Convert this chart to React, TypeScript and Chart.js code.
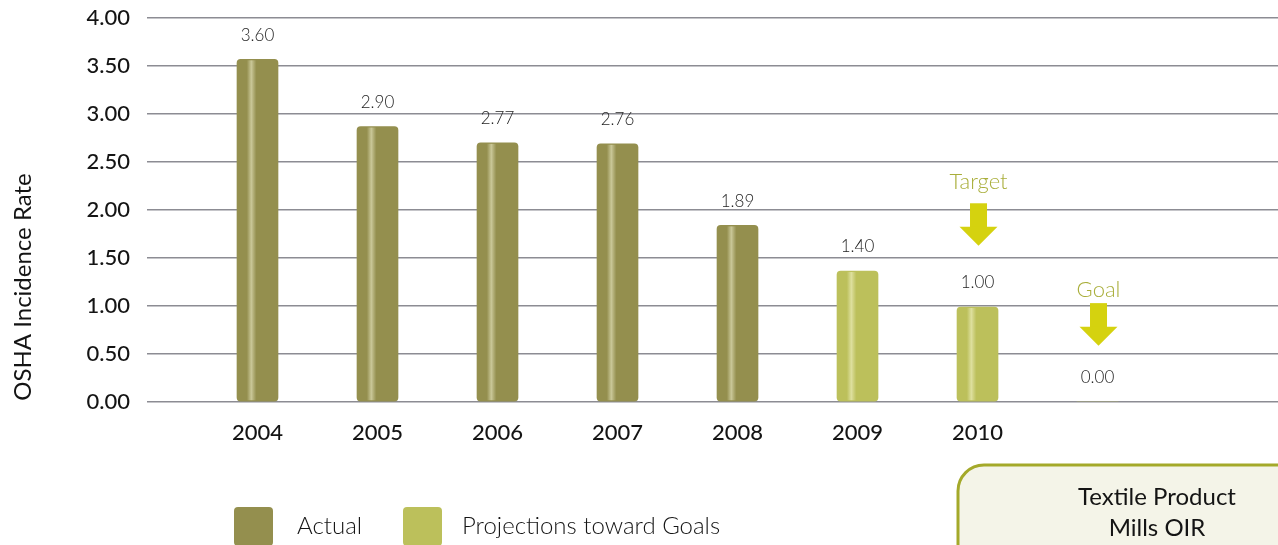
import React, { useEffect, useRef } from "react";
import { Chart, registerables } from "chart.js";

Chart.register(...registerables);

// ---------- data ----------
const categories = ["2004", "2005", "2006", "2007", "2008", "2009", "2010", ""];
const actualValues = [3.57, 2.87, 2.7, 2.69, 1.84];
const projectionValues = [1.365, 0.99, 0];
const projectionStart = 5;
const valueLabels = ["3.60", "2.90", "2.77", "2.76", "1.89", "1.40", "1.00", "0.00"];
const yTickValues = [0, 0.5, 1, 1.5, 2, 2.5, 3, 3.5, 4];
const legendLabels = ["Actual", "Projections toward Goals"];
const yTitle = "OSHA Incidence Rate";
const boxLines = ["Textile Product", "Mills OIR"];
const notes = [
  { index: 6, text: "Target", labelY: 2.29, arrowTop: 2.07, arrowTip: 1.628 },
  { index: 7, text: "Goal", labelY: 1.17, arrowTop: 1.03, arrowTip: 0.587 },
];

// ---------- styles ----------
const FONT = 'Lato, "Noto Sans", sans-serif';
const ACTUAL = "#948F4E";
const PROJ = "#BCC05B";
const NOTE_TEXT = "#A9AE3A";
const ARROW = "#D5D20F";
const TEXT = "#141414";

const decorPlugin = {
  id: "decor",
  afterDatasetsDraw(chart: any) {
    const ctx = chart.ctx;
    chart.data.datasets.forEach((_: any, di: number) => {
      const meta = chart.getDatasetMeta(di);
      meta.data.forEach((el: any) => {
        const { x, y, base, width } = el.getProps(["x", "y", "base", "width"], true);
        if (Math.abs(base - y) < 1) return;
        const left = x - width / 2;
        const g = ctx.createLinearGradient(left, 0, left + width, 0);
        g.addColorStop(0, "rgba(255,255,225,0)");
        g.addColorStop(0.24, "rgba(255,255,225,0)");
        g.addColorStop(0.35, "rgba(255,255,225,0.5)");
        g.addColorStop(0.47, "rgba(255,255,225,0)");
        g.addColorStop(1, "rgba(255,255,225,0)");
        ctx.save();
        ctx.fillStyle = g;
        ctx.fillRect(left, y + 1, width, base - y - 2);
        ctx.restore();
      });
    });
  },
  afterDraw(chart: any) {
    const ctx = chart.ctx;
    const xs = chart.scales.x;
    const ys = chart.scales.y;
    ctx.save();
    // value labels
    ctx.font = `300 17px ${FONT}`;
    ctx.fillStyle = "#1e1e1e";
    ctx.textAlign = "center";
    ctx.textBaseline = "middle";
    const allVals = [...actualValues, ...projectionValues];
    allVals.forEach((v, i) => {
      ctx.fillText(valueLabels[i], xs.getPixelForValue(i), ys.getPixelForValue(v) - 24);
    });
    // notes with arrows
    notes.forEach((n) => {
      const cx = xs.getPixelForValue(n.index) + 1;
      ctx.font = `300 22px ${FONT}`;
      ctx.fillStyle = NOTE_TEXT;
      ctx.fillText(n.text, cx, ys.getPixelForValue(n.labelY));
      const top = ys.getPixelForValue(n.arrowTop);
      const tip = ys.getPixelForValue(n.arrowTip);
      const headH = 19;
      ctx.fillStyle = ARROW;
      ctx.fillRect(cx - 8.5, top, 17, tip - headH - top + 1);
      ctx.beginPath();
      ctx.moveTo(cx - 19, tip - headH);
      ctx.lineTo(cx + 19, tip - headH);
      ctx.lineTo(cx, tip);
      ctx.closePath();
      ctx.fill();
    });
    // y title
    ctx.save();
    ctx.translate(23, 287);
    ctx.rotate(-Math.PI / 2);
    ctx.font = `400 24px ${FONT}`;
    ctx.fillStyle = TEXT;
    ctx.fillText(yTitle, 0, 0);
    ctx.restore();
    // legend
    const items = [
      { x: 234, color: ACTUAL, textX: 297 },
      { x: 403, color: PROJ, textX: 462 },
    ];
    items.forEach((it, i) => {
      ctx.fillStyle = it.color;
      ctx.beginPath();
      (ctx as any).roundRect(it.x, 507, 39, 39, 4);
      ctx.fill();
      ctx.fillStyle = TEXT;
      ctx.font = `300 24px ${FONT}`;
      ctx.textAlign = "left";
      ctx.fillText(legendLabels[i], it.textX, 526);
    });
    // box
    ctx.beginPath();
    (ctx as any).roundRect(958, 465, 420, 200, 26);
    ctx.fillStyle = "#F4F4E8";
    ctx.fill();
    ctx.lineWidth = 3;
    ctx.strokeStyle = "#A4A92A";
    ctx.stroke();
    ctx.fillStyle = TEXT;
    ctx.font = `400 24px ${FONT}`;
    ctx.textAlign = "center";
    ctx.fillText(boxLines[0], 1157, 497);
    ctx.fillText(boxLines[1], 1157, 528);
    ctx.restore();
  },
};

export default function App() {
  const ref = useRef<HTMLCanvasElement>(null);
  useEffect(() => {
    const canvas = ref.current!;
    const chart = new Chart(canvas, {
      type: "bar",
      data: {
        datasets: [
          {
            label: legendLabels[0],
            data: actualValues.map((v, i) => ({ x: i, y: v })),
            backgroundColor: ACTUAL,
            grouped: false,
            barThickness: 41,
            borderRadius: 4,
            borderSkipped: false,
          } as any,
          {
            label: legendLabels[1],
            data: projectionValues.map((v, i) => ({ x: i + projectionStart, y: v })),
            backgroundColor: PROJ,
            grouped: false,
            barThickness: 41,
            borderRadius: 4,
            borderSkipped: false,
          } as any,
        ],
      },
      options: {
        animation: false,
        responsive: false,
        devicePixelRatio: 1,
        layout: { padding: { top: 18, left: 0, right: 0, bottom: 0 } },
        plugins: { legend: { display: false }, tooltip: { enabled: false } },
        scales: {
          x: {
            type: "linear",
            offset: false,
            min: -0.8375,
            max: 8.504,
            afterBuildTicks: (s: any) => {
              s.ticks = categories.slice(0, 7).map((_, i) => ({ value: i }));
            },
            afterFit: (s: any) => {
              s.height = 143;
              s.paddingLeft = 0;
              s.paddingRight = 0;
              s.paddingTop = 0;
              s.paddingBottom = 0;
            },
            ticks: {
              callback: (v: any) => categories[v] ?? "",
              font: { family: FONT, size: 22, weight: "500" },
              color: TEXT,
              padding: 18,
              autoSkip: false,
              maxRotation: 0,
            },
            grid: { display: false, drawTicks: false },
            border: { display: false },
          },
          y: {
            min: 0,
            max: 4,
            z: 1,
            afterBuildTicks: (s: any) => {
              s.ticks = yTickValues.map((v) => ({ value: v }));
            },
            afterFit: (s: any) => {
              s.width = 157;
              s.paddingTop = 0;
              s.paddingBottom = 0;
              s.paddingLeft = 0;
              s.paddingRight = 0;
            },
            ticks: {
              callback: (v: any) => Number(v).toFixed(2),
              font: { family: FONT, size: 22, weight: "500" },
              color: TEXT,
              padding: 17,
            },
            grid: { color: "rgba(95,95,105,0.72)", lineWidth: 1.5, tickLength: 10, drawTicks: true },
            border: { display: false },
          },
        },
      } as any,
      plugins: [decorPlugin],
    });
    return () => chart.destroy();
  }, []);
  return (
    <div style={{ position: "fixed", left: 0, top: 0, width: 1278, height: 545, background: "#fff" }}>
      <canvas ref={ref} width={1278} height={545} style={{ width: 1278, height: 545, display: "block" }} />
    </div>
  );
}
